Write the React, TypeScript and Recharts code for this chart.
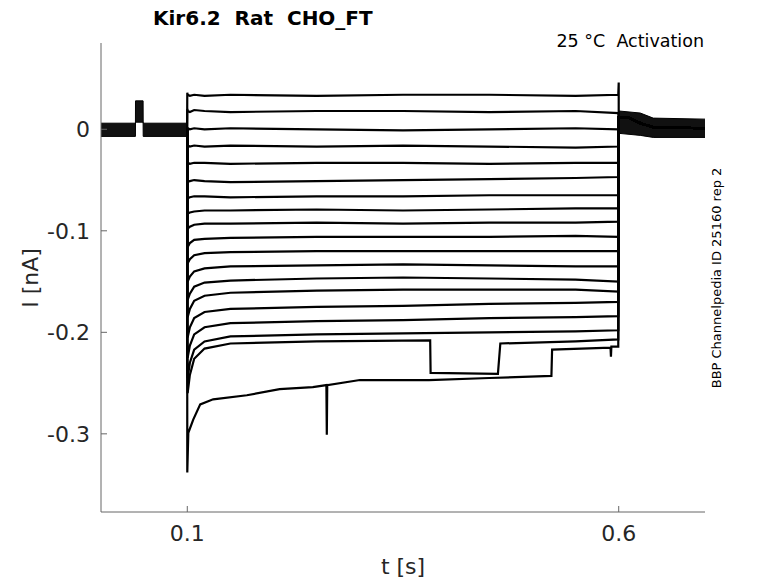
import { ComposedChart, Line, Area, XAxis, YAxis } from "recharts";

// time in s, current in nA
const xTicks = [0.1, 0.6];
const yTicks = [-0.3, -0.2, -0.1, 0];

// holding period envelope before the step (includes the small test pulse)
const holdBeforeT = [0, 0.0399, 0.04, 0.0488, 0.0489, 0.0998];
const holdBeforeLo = [-0.007, -0.007, 0.007, 0.007, -0.007, -0.007];
const holdBeforeHi = [0.006, 0.006, 0.028, 0.028, 0.006, 0.006];

// holding period envelope after the step
const holdAfterT = [0.6004, 0.625, 0.64, 0.7];
const holdAfterLo = [-0.004, -0.006, -0.008, -0.008];
const holdAfterHi = [0.018, 0.016, 0.011, 0.01];

// sweeps sampled at these times
const sweepTimes = [0.1, 0.1004, 0.103, 0.108, 0.12, 0.15, 0.25, 0.35, 0.45, 0.55, 0.5995];
const sweepCurrents = [
  [0.036, 0.034, 0.033, 0.034, 0.033, 0.034, 0.033, 0.034, 0.034, 0.033, 0.034],
  [0.02, 0.018, 0.017, 0.019, 0.018, 0.017, 0.018, 0.018, 0.017, 0.018, 0.016],
  [0.002, 0.001, 0, 0.001, 0, 0.001, 0, -0.001, 0, 0.001, 0],
  [-0.015, -0.016, -0.017, -0.016, -0.017, -0.016, -0.017, -0.016, -0.017, -0.018, -0.017],
  [-0.031, -0.033, -0.034, -0.033, -0.033, -0.034, -0.033, -0.033, -0.034, -0.033, -0.033],
  [-0.05, -0.052, -0.051, -0.05, -0.051, -0.052, -0.051, -0.05, -0.049, -0.048, -0.047],
  [-0.066, -0.068, -0.067, -0.066, -0.066, -0.067, -0.066, -0.066, -0.065, -0.065, -0.065],
  [-0.08, -0.083, -0.082, -0.081, -0.08, -0.08, -0.079, -0.08, -0.079, -0.078, -0.078],
  [-0.094, -0.098, -0.096, -0.094, -0.093, -0.093, -0.092, -0.093, -0.092, -0.092, -0.091],
  [-0.11, -0.116, -0.112, -0.109, -0.108, -0.107, -0.106, -0.106, -0.106, -0.105, -0.106],
  [-0.125, -0.132, -0.128, -0.124, -0.122, -0.121, -0.12, -0.12, -0.12, -0.12, -0.12],
  [-0.14, -0.15, -0.145, -0.14, -0.137, -0.135, -0.134, -0.133, -0.134, -0.135, -0.135],
  [-0.155, -0.168, -0.162, -0.155, -0.151, -0.149, -0.147, -0.146, -0.147, -0.148, -0.15],
  [-0.17, -0.185, -0.177, -0.169, -0.164, -0.161, -0.159, -0.158, -0.158, -0.158, -0.16],
  [-0.19, -0.205, -0.195, -0.186, -0.18, -0.177, -0.175, -0.174, -0.172, -0.171, -0.17],
  [-0.205, -0.225, -0.213, -0.202, -0.195, -0.191, -0.189, -0.188, -0.186, -0.185, -0.184],
  [-0.22, -0.245, -0.23, -0.217, -0.209, -0.204, -0.202, -0.201, -0.2, -0.199, -0.198],
];

// sweep with the two level jumps
const stepSweepT = [0.1, 0.1004, 0.103, 0.108, 0.12, 0.15, 0.25, 0.3815, 0.382, 0.46, 0.4628, 0.55, 0.5995];
const stepSweepI = [-0.23, -0.26, -0.242, -0.226, -0.216, -0.211, -0.209, -0.208, -0.24, -0.241, -0.211, -0.209, -0.207];

// largest sweep
const bottomSweepT = [0.1, 0.1012, 0.1069, 0.115, 0.13, 0.169, 0.207, 0.2455, 0.2612, 0.2617, 0.2622, 0.3, 0.38, 0.45, 0.522, 0.5228, 0.5905, 0.591, 0.5915, 0.5995];
const bottomSweepI = [-0.338, -0.299, -0.286, -0.271, -0.266, -0.262, -0.256, -0.254, -0.252, -0.301, -0.252, -0.247, -0.247, -0.245, -0.243, -0.217, -0.215, -0.224, -0.214, -0.214];

// return to holding
const tailT = [0.6, 0.6004, 0.61, 0.625, 0.64, 0.7];
const tailI = [0.012, 0.012, 0.012, 0.006, 0.002, 0.001];
const offSpikeT = [0.6];
const offSpikeI = [0.046];

type Pt = { t: number; i: number };

const zip = (ts: number[], is: number[]): Pt[] => ts.map((t, k) => ({ t, i: is[k] }));

const pre: Pt[] = [{ t: 0.0998, i: 0 }];
const tail = zip(tailT, tailI);

const sweeps: Pt[][] = [
  ...sweepCurrents.map((vals, k) => [
    ...pre,
    ...zip(sweepTimes, vals),
    ...(k === 0 ? zip(offSpikeT, offSpikeI) : []),
    ...tail,
  ]),
  [...pre, ...zip(stepSweepT, stepSweepI), ...tail],
  [...pre, ...zip(bottomSweepT, bottomSweepI), ...tail],
];

const bandBefore = holdBeforeT.map((t, k) => ({ t, band: [holdBeforeLo[k], holdBeforeHi[k]] }));
const bandAfter = holdAfterT.map((t, k) => ({ t, band: [holdAfterLo[k], holdAfterHi[k]] }));

const font = "DejaVu Sans, sans-serif";
const tickStyle = { fontSize: 22, fill: "#262626", fontFamily: font };

export default function App() {
  return (
    <div style={{ position: "absolute", left: 0, top: 0, width: 778, height: 583, background: "#fff" }}>
      <ComposedChart width={778} height={583} margin={{ top: 43, right: 73, bottom: 0, left: 0 }}>
        <XAxis
          type="number"
          dataKey="t"
          domain={[0, 0.7]}
          ticks={xTicks}
          allowDataOverflow
          height={71}
          tickSize={-6}
          tickMargin={19}
          tick={tickStyle}
          axisLine={{ stroke: "#666" }}
          tickLine={{ stroke: "#666" }}
        />
        <YAxis
          type="number"
          domain={[-0.377, 0.085]}
          ticks={yTicks}
          allowDataOverflow
          width={101}
          tickSize={-6}
          tickMargin={17}
          tick={tickStyle}
          axisLine={{ stroke: "#666" }}
          tickLine={{ stroke: "#666" }}
        />
        <Area
          data={bandBefore}
          dataKey="band"
          type="linear"
          stroke="#000"
          strokeWidth={1}
          fill="#111"
          fillOpacity={1}
          isAnimationActive={false}
          activeDot={false}
        />
        <Area
          data={bandAfter}
          dataKey="band"
          type="linear"
          stroke="#000"
          strokeWidth={1}
          fill="#111"
          fillOpacity={1}
          isAnimationActive={false}
          activeDot={false}
        />
        {sweeps.map((d, k) => (
          <Line
            key={k}
            data={d}
            dataKey="i"
            type="linear"
            stroke="#000"
            strokeWidth={2.2}
            dot={false}
            activeDot={false}
            isAnimationActive={false}
          />
        ))}
      </ComposedChart>
      <svg
        width={778}
        height={583}
        style={{ position: "absolute", left: 0, top: 0, pointerEvents: "none" }}
        fontFamily={font}
      >
        <text x={153} y={25} fontSize={20} fontWeight="bold" fill="#000" xmlSpace="preserve">
          Kir6.2  Rat  CHO_FT
        </text>
        <text x={704} y={47} fontSize={17.5} textAnchor="end" fill="#000" xmlSpace="preserve">
          25 °C  Activation
        </text>
        <text
          x={0}
          y={0}
          fontSize={13}
          textAnchor="middle"
          fill="#000"
          transform="translate(721 278) rotate(-90)"
        >
          BBP Channelpedia ID 25160 rep 2
        </text>
        <text
          x={0}
          y={0}
          fontSize={22}
          textAnchor="middle"
          fill="#262626"
          transform="translate(38 278) rotate(-90)"
        >
          I [nA]
        </text>
        <text x={403} y={574} fontSize={22} textAnchor="middle" fill="#262626">
          t [s]
        </text>
      </svg>
    </div>
  );
}
